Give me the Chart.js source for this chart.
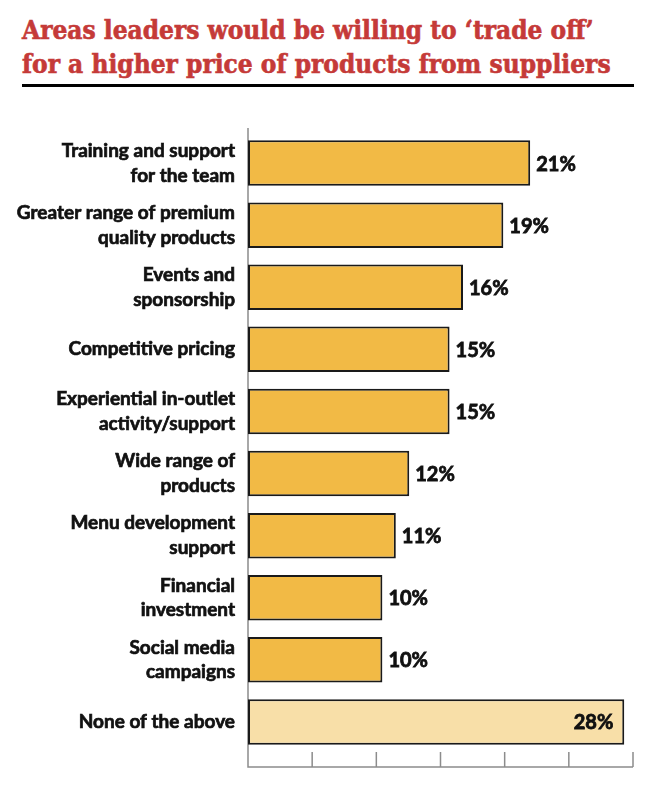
<!DOCTYPE html>
<html>
<head>
<meta charset="utf-8">
<script src="https://cdn.jsdelivr.net/npm/chart.js@4"></script>
<style>
  html, body { margin: 0; padding: 0; background: #fff; }
  #wrap { position: relative; width: 656px; height: 792px; }
  #title {
    position: absolute; left: 22px; top: 13px; margin: 0;
    font-family: "DejaVu Serif Condensed", "DejaVu Serif", serif;
    font-weight: bold; font-size: 26px; line-height: 34px;
    color: #C53A38; white-space: nowrap;
    -webkit-text-stroke: 0.6px #C53A38;
  }
  #rule { position: absolute; left: 22px; top: 84px; width: 612px; height: 3px; background: #000; }
  #chart { position: absolute; left: 0; top: 0; }
</style>
</head>
<body>
<div id="wrap">
  <h1 id="title">Areas leaders would be willing to ‘trade off’<br>for a higher price of products from suppliers</h1>
  <div id="rule"></div>
  <canvas id="chart" width="656" height="792"></canvas>
</div>
<script>
const categories = [
  ['Training and support', 'for the team'],
  ['Greater range of premium', 'quality products'],
  ['Events and', 'sponsorship'],
  'Competitive pricing',
  ['Experiential in-outlet', 'activity/support'],
  ['Wide range of', 'products'],
  ['Menu development', 'support'],
  ['Financial', 'investment'],
  ['Social media', 'campaigns'],
  'None of the above'
];
const values = [21, 19, 16, 15, 15, 12, 11, 10, 10, 28];
const valueLabels = ['21%', '19%', '16%', '15%', '15%', '12%', '11%', '10%', '10%', '28%'];

// the axis runs a little past the biggest bar, split in six unlabelled ticks
const axisMax = 28.65;
const tickCount = 6;

const barColor = '#F2BA45';
const noneColor = '#F8DFA8';

const axesPlugin = {
  id: 'axes',
  beforeDatasetsDraw(chart) {
    const { ctx, chartArea, scales: { x } } = chart;
    const base = chartArea.bottom + 14;
    ctx.save();
    ctx.strokeStyle = '#8c8c8c';
    ctx.lineWidth = 1.5;
    ctx.beginPath();
    ctx.moveTo(x.left, chartArea.top - 4);
    ctx.lineTo(x.left, base);
    ctx.lineTo(x.right, base);
    for (let i = 1; i <= tickCount; i++) {
      const px = x.getPixelForValue(axisMax * i / tickCount);
      ctx.moveTo(px, base);
      ctx.lineTo(px, base - 15);
    }
    ctx.stroke();
    ctx.restore();
  }
};

const valuePlugin = {
  id: 'values',
  afterDatasetsDraw(chart) {
    const { ctx } = chart;
    const bars = chart.getDatasetMeta(0).data;
    ctx.save();
    ctx.font = 'bold 20px Lato';
    ctx.fillStyle = '#111';
    ctx.strokeStyle = '#111';
    ctx.lineWidth = 0.8;
    ctx.textBaseline = 'middle';
    bars.forEach((bar, i) => {
      let tx = bar.x + 6;
      ctx.textAlign = 'left';
      if (i === bars.length - 1) {
        ctx.textAlign = 'right';
        tx = bar.x - 11;
      }
      ctx.fillText(valueLabels[i], tx, bar.y + 1);
      ctx.strokeText(valueLabels[i], tx, bar.y + 1);
    });
    ctx.restore();
  }
};

new Chart(document.getElementById('chart'), {
  type: 'bar',
  data: {
    labels: categories,
    datasets: [{
      data: values,
      backgroundColor: values.map((v, i) => i === values.length - 1 ? noneColor : barColor),
      borderColor: '#1a1a1a',
      borderWidth: 2,
      borderSkipped: false,
      categoryPercentage: 1,
      barPercentage: 0.733
    }]
  },
  options: {
    indexAxis: 'y',
    responsive: false,
    animation: false,
    events: [],
    layout: { padding: { top: 132, bottom: 39, left: 0, right: 23 } },
    plugins: { legend: { display: false }, tooltip: { enabled: false } },
    scales: {
      x: { type: 'linear', min: 0, max: axisMax, display: false },
      y: {
        grid: { display: false },
        border: { display: false },
        ticks: {
          color: '#111',
          padding: 5,
          textStrokeColor: '#111',
          textStrokeWidth: 0.7,
          font: { family: 'Lato', weight: 'bold', size: 19, lineHeight: 1.3 }
        },
        afterFit(scale) { scale.width = 248; }
      }
    }
  },
  plugins: [axesPlugin, valuePlugin]
});
</script>
</body>
</html>
